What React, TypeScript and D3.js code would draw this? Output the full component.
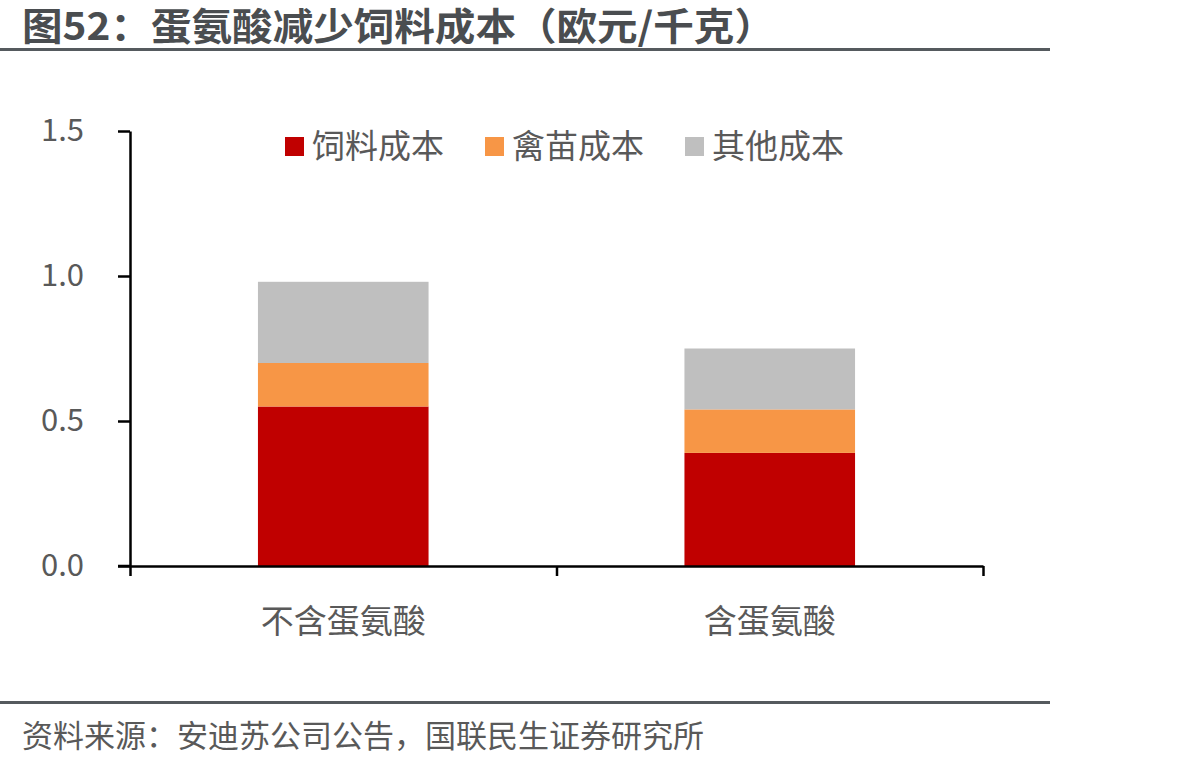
import React, { useEffect, useRef } from "react";
import * as d3 from "d3";

// 数据
const categories = ["不含蛋氨酸", "含蛋氨酸"];
const seriesNames = ["饲料成本", "禽苗成本", "其他成本"];
const feedCost = [0.55, 0.39];
const chickCost = [0.15, 0.15];
const otherCost = [0.28, 0.21];
const yTicks = [0, 0.5, 1.0, 1.5];
const colors = ["#C00000", "#F79646", "#BFBFBF"];

const title = "图52：蛋氨酸减少饲料成本（欧元/千克）";
const source = "资料来源：安迪苏公司公告，国联民生证券研究所";

const W = 1199;
const H = 765;
const FONT = "'Noto Sans CJK SC', 'Noto Sans', sans-serif";

export default function App() {
    const svgRef = useRef<SVGSVGElement | null>(null);

    useEffect(() => {
        const svg = d3.select(svgRef.current);
        svg.selectAll("*").remove();

        const rows = categories.map((c, i) => ({
            cat: c,
            饲料成本: feedCost[i],
            禽苗成本: chickCost[i],
            其他成本: otherCost[i],
        }));

        const plot = { left: 130, right: 983, top: 131, bottom: 566 };

        const x = d3
            .scaleBand<string>()
            .domain(categories)
            .range([plot.left, plot.right])
            .padding(0);

        const y = d3
            .scaleLinear()
            .domain([0, 1.5])
            .range([plot.bottom, plot.top]);

        const color = d3.scaleOrdinal<string, string>().domain(seriesNames).range(colors);

        // 标题
        svg.append("text")
            .attr("x", 22)
            .attr("y", 40)
            .attr("font-family", FONT)
            .attr("font-weight", "bold")
            .attr("font-size", 38)
            .attr("textLength", 753)
            .attr("lengthAdjust", "spacingAndGlyphs")
            .attr("fill", "#4a4d50")
            .text(title);

        svg.append("rect")
            .attr("x", 0)
            .attr("y", 48)
            .attr("width", 1050)
            .attr("height", 3)
            .attr("fill", "#555a5e");

        // 堆叠柱
        const stack = d3.stack<any>().keys(seriesNames);
        const stacked = stack(rows as any);
        const barW = x.bandwidth() * 0.4;

        svg.append("g")
            .selectAll("g")
            .data(stacked)
            .join("g")
            .attr("fill", (d) => color(d.key))
            .selectAll("rect")
            .data((d) => d)
            .join("rect")
            .attr("x", (d: any) => (x(d.data.cat) as number) + (x.bandwidth() - barW) / 2)
            .attr("y", (d) => y(d[1]))
            .attr("width", barW)
            .attr("height", (d) => y(d[0]) - y(d[1]));

        // 坐标轴
        const yAxis = d3
            .axisLeft(y)
            .tickValues(yTicks)
            .tickFormat(d3.format(".1f"))
            .tickSize(12)
            .tickSizeOuter(0)
            .tickPadding(34);

        const gy = svg.append("g").attr("transform", `translate(${plot.left},0)`).call(yAxis);
        gy.select(".domain").attr("stroke", "#000").attr("stroke-width", 2.5);
        gy.selectAll(".tick line").attr("stroke", "#000").attr("stroke-width", 2.5);
        gy.selectAll(".tick text")
            .attr("font-family", FONT)
            .attr("font-size", 31)
            .attr("fill", "#595959");

        const xTickScale = d3
            .scaleLinear()
            .domain([0, categories.length])
            .range([plot.left, plot.right]);
        const xAxisLine = d3
            .axisBottom(xTickScale)
            .tickValues(d3.range(0, categories.length + 1))
            .tickFormat(() => "")
            .tickSize(10)
            .tickSizeOuter(0);
        const gx = svg.append("g").attr("transform", `translate(0,${plot.bottom})`).call(xAxisLine);
        gx.select(".domain").attr("stroke", "#000").attr("stroke-width", 2.5);
        gx.selectAll(".tick line").attr("stroke", "#000").attr("stroke-width", 2.5);

        svg.append("line")
            .attr("x1", plot.left - 12)
            .attr("x2", plot.left)
            .attr("y1", plot.bottom)
            .attr("y2", plot.bottom)
            .attr("stroke", "#000")
            .attr("stroke-width", 2.5);

        svg.append("g")
            .selectAll("text")
            .data(categories)
            .join("text")
            .attr("x", (d) => (x(d) as number) + x.bandwidth() / 2)
            .attr("y", 633)
            .attr("text-anchor", "middle")
            .attr("font-family", FONT)
            .attr("font-size", 33)
            .attr("fill", "#595959")
            .text((d) => d);

        // 图例
        const legend = svg
            .append("g")
            .selectAll("g")
            .data(seriesNames)
            .join("g")
            .attr("transform", (d, i) => `translate(${285 + i * 200},137)`);
        legend
            .append("rect")
            .attr("width", 19)
            .attr("height", 19)
            .attr("fill", (d) => color(d));
        legend
            .append("text")
            .attr("x", 27)
            .attr("y", 21)
            .attr("font-family", FONT)
            .attr("font-size", 33)
            .attr("fill", "#595959")
            .text((d) => d);

        // 资料来源
        svg.append("rect")
            .attr("x", 0)
            .attr("y", 701)
            .attr("width", 1050)
            .attr("height", 3)
            .attr("fill", "#555a5e");

        svg.append("text")
            .attr("x", 22)
            .attr("y", 747)
            .attr("font-family", FONT)
            .attr("font-size", 31)
            .attr("fill", "#595959")
            .text(source);
    }, []);

    return (
        <svg
            ref={svgRef}
            width={W}
            height={H}
            style={{ position: "absolute", left: 0, top: 0, background: "#fff" }}
        />
    );
}
